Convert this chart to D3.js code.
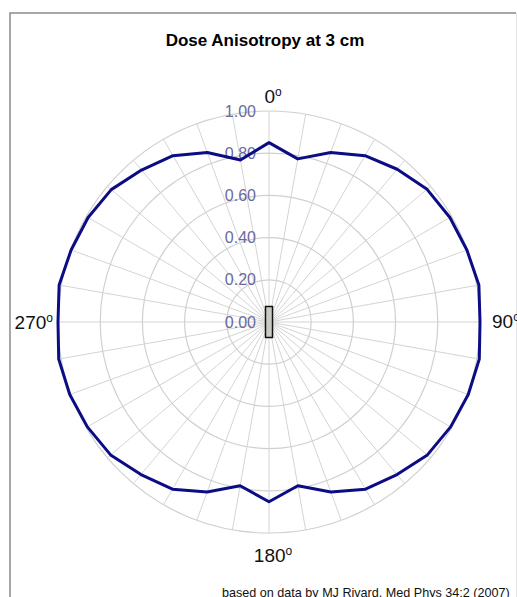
<!DOCTYPE html>
<html>
<head>
<meta charset="utf-8">
<script src="https://cdn.jsdelivr.net/npm/d3@7"></script>
<style>
  body { margin: 0; background: #fff; }
  svg { display: block; font-family: "Liberation Sans", Arial, sans-serif; }
</style>
</head>
<body>
<div id="chart"></div>
<script>
// angles (degrees, clockwise from top) and anisotropy values
var angles = [0, 10, 20, 30, 40, 50, 60, 70, 80, 90, 100, 110, 120, 130, 140, 150, 160, 170,
              180, 190, 200, 210, 220, 230, 240, 250, 260, 270, 280, 290, 300, 310, 320, 330, 340, 350];
var anisotropy = [0.850, 0.785, 0.855, 0.910, 0.945, 0.978, 0.990, 0.998, 1.010, 1.000,
                  1.012, 1.005, 0.994, 0.980, 0.944, 0.915, 0.857, 0.788,
                  0.852, 0.788, 0.857, 0.915, 0.944, 0.980, 0.994, 1.005, 1.012, 1.000,
                  1.010, 0.998, 0.990, 0.976, 0.940, 0.910, 0.855, 0.780];
var radialTicks = [0, 0.2, 0.4, 0.6, 0.8, 1.0];
var compassAngles = [0, 90, 180, 270];
var compassLabels = ["0", "90", "180", "270"];

var title = "Dose Anisotropy at 3 cm";
var credit = "based on data by MJ Rivard, Med Phys 34:2 (2007)";

var width = 517, height = 597;
var cx = 269, cy = 322, R = 211;

var svg = d3.select("#chart").append("svg")
  .attr("width", width)
  .attr("height", height);

// frame (right/bottom edges cut off like the picture)
svg.append("path")
  .attr("d", "M10,600V13H516")
  .attr("fill", "none")
  .attr("stroke", "#8a8a8a")
  .attr("stroke-width", 1.5);
svg.append("line")
  .attr("x1", 516.5).attr("y1", 13).attr("x2", 516.5).attr("y2", 600)
  .attr("stroke", "#e4e4e4")
  .attr("stroke-width", 1);

svg.append("text")
  .attr("x", 265).attr("y", 46)
  .attr("text-anchor", "middle")
  .style("font-size", "17px")
  .style("font-weight", "bold")
  .text(title);

var r = d3.scaleLinear().domain([0, 1]).range([0, R]);
var rad = function(a) { return a * Math.PI / 180; };

var g = svg.append("g").attr("transform", "translate(" + cx + "," + cy + ")");

// spokes
g.selectAll(".spoke")
  .data(angles)
  .enter().append("line")
  .attr("class", "spoke")
  .attr("x1", 0).attr("y1", 0)
  .attr("x2", function(d) { return r(1) * Math.sin(rad(d)); })
  .attr("y2", function(d) { return -r(1) * Math.cos(rad(d)); })
  .attr("stroke", "#d4d4d4")
  .attr("stroke-width", 1);

// circles
g.selectAll(".ring")
  .data(radialTicks.filter(function(d) { return d > 0; }))
  .enter().append("circle")
  .attr("class", "ring")
  .attr("r", function(d) { return r(d); })
  .attr("fill", "none")
  .attr("stroke", "#d0d0d0")
  .attr("stroke-width", 1.2);

// radial tick labels
g.selectAll(".rlabel")
  .data(radialTicks)
  .enter().append("text")
  .attr("class", "rlabel")
  .attr("x", -13)
  .attr("y", function(d) { return -r(d); })
  .attr("dy", "0.35em")
  .attr("text-anchor", "end")
  .attr("fill", "#6a6a9c")
  .style("font-size", "16px")
  .text(d3.format(".2f"));

// dose curve
var line = d3.lineRadial()
  .angle(function(d, i) { return rad(angles[i]); })
  .radius(function(d) { return r(d); })
  .curve(d3.curveLinearClosed);

g.append("path")
  .datum(anisotropy)
  .attr("d", line)
  .attr("fill", "none")
  .attr("stroke", "#0c0c85")
  .attr("stroke-width", 3)
  .attr("stroke-linejoin", "round");

// source
g.append("rect")
  .attr("x", -3.5).attr("y", -15.5)
  .attr("width", 7).attr("height", 31)
  .attr("fill", "#c9cbc2")
  .attr("stroke", "#111")
  .attr("stroke-width", 1.5);

// compass labels
var labelPos = {
  0:   { x: 4,          y: -r(1) - 8,  anchor: "middle" },
  90:  { x: r(1) + 12,  y: 6,          anchor: "start" },
  180: { x: 4,          y: r(1) + 29,  anchor: "middle" },
  270: { x: -r(1) - 5,  y: 7,          anchor: "end" }
};
compassAngles.forEach(function(a, i) {
  var p = labelPos[a];
  var t = g.append("text")
    .attr("x", p.x).attr("y", p.y)
    .attr("text-anchor", p.anchor)
    .attr("fill", "#111")
    .style("font-size", "19px");
  t.append("tspan").text(compassLabels[i]);
  t.append("tspan").attr("dy", -7.5).style("font-size", "12px").text("o");
});

svg.append("text")
  .attr("x", 222).attr("y", 597)
  .style("font-size", "12.6px")
  .attr("fill", "#111")
  .text(credit);
</script>
</body>
</html>
